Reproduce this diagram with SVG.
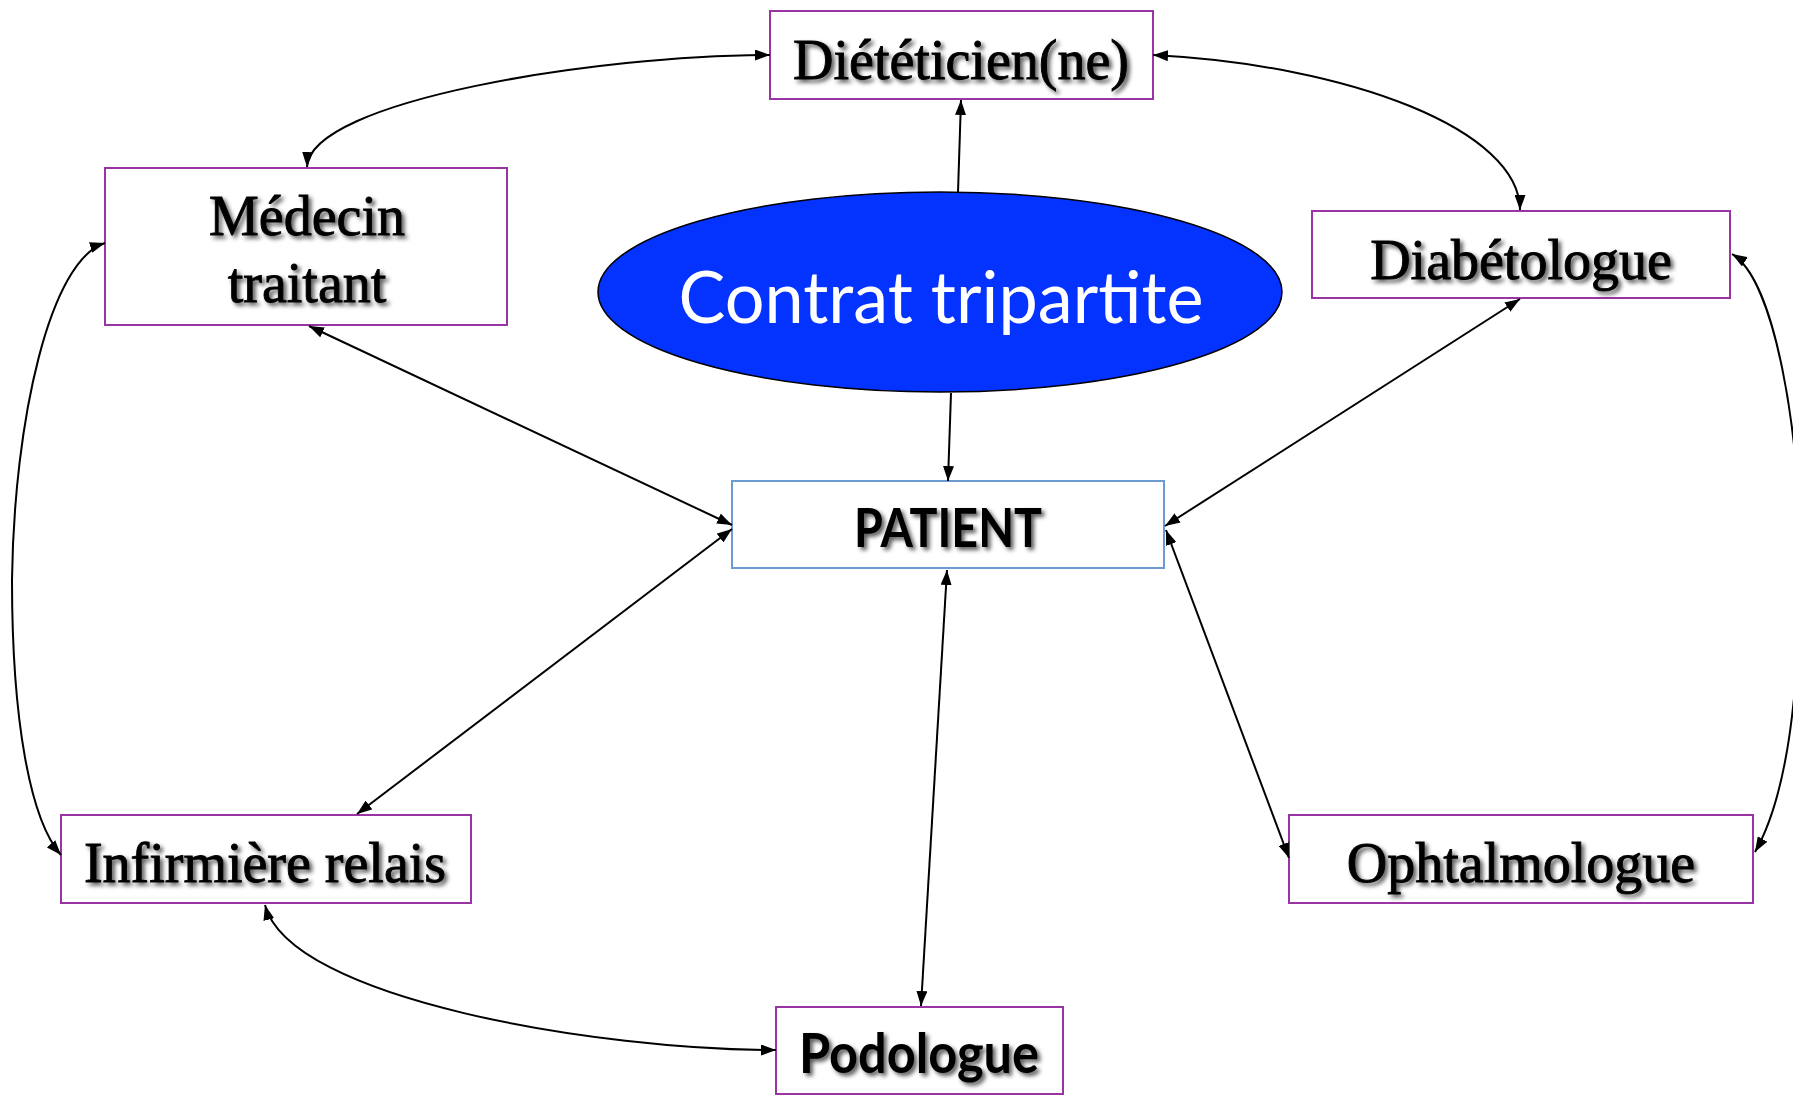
<svg xmlns="http://www.w3.org/2000/svg" width="1793" height="1095" viewBox="0 0 1793 1095">
<style>
.box{fill:#fff;stroke:#9a34a2;stroke-width:2}
.pbox{fill:#fff;stroke:#6b9bd1;stroke-width:2}
.serif{font-family:"Liberation Serif","Times New Roman",serif;font-size:56px;fill:#000;stroke:#000;stroke-width:0.9;text-anchor:middle}
.sans{font-family:Lato,"Noto Sans",sans-serif;font-weight:bold;fill:#000;text-anchor:middle}
.sh{filter:url(#shadow)}
.c{fill:none;stroke:#000;stroke-width:2;marker-end:url(#ah)}
.d{marker-start:url(#ah)}
</style>
<defs>
<filter id="shadow" x="-10%" y="-20%" width="120%" height="150%">
<feDropShadow dx="3" dy="3" stdDeviation="2" flood-color="#000" flood-opacity="0.65"/>
</filter>
<marker id="ah" viewBox="0 0 15 11" refX="15" refY="5.5" markerWidth="15" markerHeight="11" markerUnits="userSpaceOnUse" orient="auto-start-reverse">
<path d="M0,0 L15,5.5 L0,11 z" fill="#000"/>
</marker>
</defs>
<rect width="1793" height="1095" fill="#fff"/>
<g id="dieteticien">
<rect class="box" x="770" y="11" width="383" height="88"/>
<text class="serif sh" x="961" y="79">Diététicien(ne)</text>
</g>
<g id="medecin">
<rect class="box" x="105" y="168" width="402" height="157"/>
<text class="serif sh" x="307" y="235">Médecin</text>
<text class="serif sh" x="307" y="302">traitant</text>
</g>
<g id="diabetologue">
<rect class="box" x="1312" y="211" width="418" height="87"/>
<text class="serif sh" x="1521" y="279">Diabétologue</text>
</g>
<g id="contrat">
<ellipse cx="940" cy="292" rx="342" ry="100" fill="#0433ff" stroke="#000" stroke-width="1.5"/>
<text class="sans" x="941" y="323" style="font-weight:normal;font-size:72px;fill:#fff" textLength="525" lengthAdjust="spacingAndGlyphs">Contrat tripartite</text>
</g>
<g id="patient">
<rect class="pbox" x="732" y="481" width="432" height="87"/>
<text class="sans sh" x="948" y="547" style="font-size:54px" textLength="188" lengthAdjust="spacingAndGlyphs">PATIENT</text>
</g>
<g id="infirmiere">
<rect class="box" x="61" y="815" width="410" height="88"/>
<text class="serif sh" x="265" y="882">Infirmière relais</text>
</g>
<g id="ophtalmologue">
<rect class="box" x="1289" y="815" width="464" height="88"/>
<text class="serif sh" x="1521" y="882">Ophtalmologue</text>
</g>
<g id="podologue">
<rect class="box" x="776" y="1007" width="287" height="87"/>
<text class="sans sh" x="919" y="1073" style="font-size:56px" textLength="240" lengthAdjust="spacingAndGlyphs">Podologue</text>
</g>
<g id="connectors">
<path class="c" d="M958,192 L961,100"/>
<path class="c" d="M951,393 L948,481"/>
<path class="c d" d="M309,326 L732,525"/>
<path class="c d" d="M1520,299 L1165,526"/>
<path class="c d" d="M732,529 L357,814"/>
<path class="c d" d="M947,570 L921,1006"/>
<path class="c d" d="M1166,530 L1289,858"/>
<path class="c d" d="M307,167 C310,100 600,55 770,55"/>
<path class="c d" d="M1153,55 C1350,65 1520,130 1520,210"/>
<path class="c d" d="M105,243 C50,260 14,420 12,580 C12,720 30,820 61,855"/>
<path class="c d" d="M1732,254 C1775,280 1800,430 1800,560 C1800,700 1785,800 1755,852"/>
<path class="c d" d="M265,905 C290,1000 600,1050 776,1050"/>
</g>
</svg>
